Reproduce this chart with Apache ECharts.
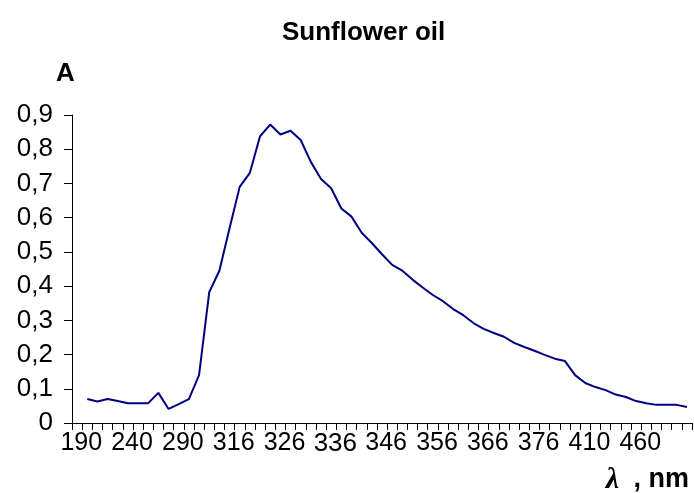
<!DOCTYPE html>
<html>
<head>
<meta charset="utf-8">
<script src="https://cdn.jsdelivr.net/npm/echarts@6/dist/echarts.min.js"></script>
<style>
html,body{margin:0;padding:0;background:#fff;}
#chart{width:694px;height:493px;}
</style>
</head>
<body>
<div id="chart"></div>
<script>
// Tick labels shown on the x axis (one every 5 categories)
const tickLabels = ['190','240','290','316','326','336','346','356','366','376','410','460'];
// Absorbance readings, one per category (first category is an empty slot)
const absorbance = [
  0.070, 0.063, 0.070, 0.064, 0.058, 0.058, 0.058, 0.088, 0.041, 0.055,
  0.070, 0.140, 0.382, 0.445, 0.569, 0.690, 0.731, 0.838, 0.872, 0.843,
  0.854, 0.827, 0.763, 0.713, 0.686, 0.627, 0.603, 0.556, 0.526, 0.493,
  0.462, 0.445, 0.419, 0.396, 0.374, 0.356, 0.333, 0.315, 0.292, 0.275,
  0.263, 0.252, 0.234, 0.222, 0.211, 0.199, 0.188, 0.181, 0.140, 0.117,
  0.105, 0.096, 0.083, 0.076, 0.064, 0.058, 0.053, 0.053, 0.053, 0.047
];
const yTicks = [0, 0.9, 0.1];

const nCat = absorbance.length + 1;
const categories = [];
for (let i = 0; i < nCat; i++) {
  const k = (i - 1) / 5;
  categories.push(i >= 1 && Number.isInteger(k) && k < tickLabels.length ? tickLabels[k] : '');
}
const seriesData = [null].concat(absorbance);

const chart = echarts.init(document.getElementById('chart'), null, {renderer: 'canvas'});
const font = "'Liberation Sans', Arial, sans-serif";
chart.setOption({
  animation: false,
  backgroundColor: '#ffffff',
  title: [
    {text: 'Sunflower oil', left: 277, top: 15,
     textStyle: {fontFamily: font, fontSize: 26, fontWeight: 'bold', color: '#000'}},
    {text: 'A', left: 51, top: 56,
     textStyle: {fontFamily: font, fontSize: 26, fontWeight: 'bold', color: '#000'}},
    {text: '{l|λ}{b| , nm}', right: 0, top: 460,
     textStyle: {rich: {
       l: {fontFamily: "'Liberation Serif', serif", fontStyle: 'italic', fontSize: 30, color: '#000', padding: [0, 7, 0, 0]},
       b: {fontFamily: font, fontSize: 27, fontWeight: 'bold', color: '#000'}
     }}}
  ],
  grid: {left: 72, right: 2, top: 115, bottom: 70},
  xAxis: {
    type: 'category',
    data: categories,
    boundaryGap: true,
    axisLine: {lineStyle: {color: '#000', width: 1}},
    axisTick: {show: true, length: 7, interval: 0, alignWithLabel: false, lineStyle: {color: '#000'}},
    axisLabel: {
      interval: 0, margin: 8, fontFamily: font, fontSize: 25, color: '#000',
      padding: [0, 12, 0, 0],
      formatter: function (v) { return v === '336' ? '{low|' + v + '}' : v; },
      rich: {low: {fontFamily: font, fontSize: 26, color: '#000', padding: [0, 0, 0, 0]}}
    },
    splitLine: {show: false}
  },
  yAxis: {
    type: 'value',
    min: yTicks[0], max: yTicks[1], interval: yTicks[2],
    axisLine: {show: true, lineStyle: {color: '#000', width: 1}},
    axisTick: {show: true, length: 8, lineStyle: {color: '#000'}},
    axisLabel: {
      margin: 19, fontFamily: font, fontSize: 26, color: '#000',
      formatter: function (v) { return (Math.round(v * 10) / 10).toString().replace('.', ','); }
    },
    splitLine: {show: false}
  },
  series: [{
    type: 'line',
    data: seriesData,
    showSymbol: false,
    symbol: 'none',
    connectNulls: false,
    lineStyle: {color: '#000080', width: 2},
    itemStyle: {color: '#000080'}
  }]
});
</script>
</body>
</html>
